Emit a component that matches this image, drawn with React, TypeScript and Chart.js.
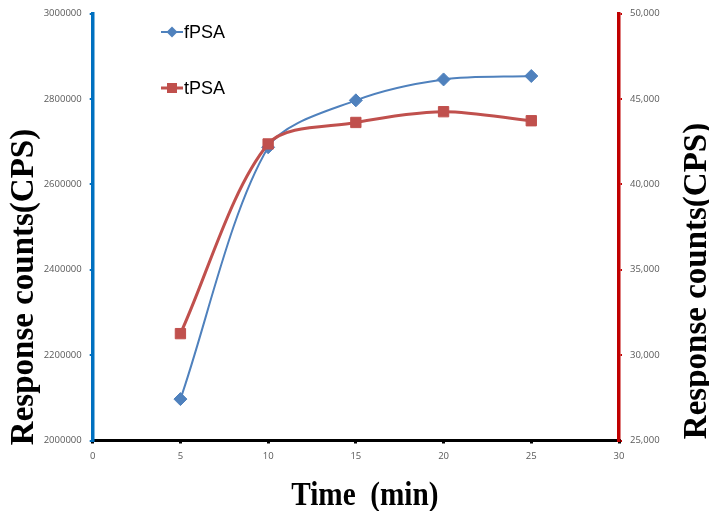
import React, { useEffect, useRef } from "react";
import { Chart, registerables } from "chart.js";

Chart.register(...registerables);

const times = [5, 10, 15, 20, 25];
const fpsaValues = [2097000, 2687000, 2797000, 2846000, 2854000];
const tpsaValues = [31260, 42370, 43630, 44260, 43730];
const seriesNames = ["fPSA", "tPSA"];
const yTitle = "Response counts(CPS)";
const xTitle = "Time  (min)";

const BLUE = "#4F81BD";
const RED = "#C0504D";
const LEFT_AXIS = "#0070C0";
const RIGHT_AXIS = "#C00000";
const TICK_COLOR = "#595959";

const titlePlugin = {
  id: "customTitlesLegend",
  afterDraw(chart: any) {
    const ctx = chart.ctx as CanvasRenderingContext2D;
    const area = chart.chartArea;
    ctx.save();
    ctx.fillStyle = "#000";
    ctx.font = "bold 33px 'Liberation Serif', 'Times New Roman', serif";
    ctx.textAlign = "center";
    ctx.textBaseline = "alphabetic";
    // left title
    ctx.save();
    ctx.translate(33, 287);
    ctx.rotate(-Math.PI / 2);
    ctx.fillText(yTitle, 0, 0);
    ctx.restore();
    // right title
    ctx.save();
    ctx.translate(706, 281);
    ctx.rotate(-Math.PI / 2);
    ctx.fillText(yTitle, 0, 0);
    ctx.restore();
    // bottom title
    ctx.save();
    ctx.font = "bold 34px 'Liberation Serif', 'Times New Roman', serif";
    ctx.translate((area.left + area.right) / 2 + 9, 505);
    ctx.scale(0.86, 1);
    ctx.fillText(xTitle, 0, 0);
    ctx.restore();

    // legend
    const items = [
      { name: seriesNames[0], color: BLUE, y: 32, width: 2, style: "diamond" },
      { name: seriesNames[1], color: RED, y: 88, width: 3, style: "square" },
    ];
    ctx.font = "18px 'Liberation Sans', Arial, sans-serif";
    ctx.textAlign = "left";
    ctx.textBaseline = "middle";
    for (const it of items) {
      ctx.strokeStyle = it.color;
      ctx.lineWidth = it.width;
      ctx.beginPath();
      ctx.moveTo(161, it.y);
      ctx.lineTo(183, it.y);
      ctx.stroke();
      ctx.fillStyle = it.color;
      ctx.beginPath();
      if (it.style === "diamond") {
        const r = 5.5;
        ctx.moveTo(172, it.y - r);
        ctx.lineTo(172 + r, it.y);
        ctx.lineTo(172, it.y + r);
        ctx.lineTo(172 - r, it.y);
        ctx.closePath();
      } else {
        ctx.rect(172 - 5, it.y - 5, 10, 10);
      }
      ctx.fill();
      ctx.fillStyle = "#000";
      ctx.fillText(it.name, 184, it.y + 1);
    }
    ctx.restore();
  },
};

export default function App() {
  const ref = useRef<HTMLCanvasElement | null>(null);
  useEffect(() => {
    if (!ref.current) return;
    const tickFont = { family: "'Open Sans', sans-serif", size: 9.5 };
    const chart = new Chart(ref.current, {
      type: "line",
      data: {
        datasets: [
          {
            label: seriesNames[1],
            data: times.map((t, i) => ({ x: t, y: tpsaValues[i] })),
            yAxisID: "y1",
            borderColor: RED,
            backgroundColor: RED,
            borderWidth: 3,
            pointStyle: "rect",
            pointRadius: 7.3,
            pointBorderWidth: 1,
            pointBorderColor: RED,
            tension: 0.3,
            order: 0,
          },
          {
            label: seriesNames[0],
            data: times.map((t, i) => ({ x: t, y: fpsaValues[i] })),
            yAxisID: "y",
            borderColor: BLUE,
            backgroundColor: BLUE,
            borderWidth: 2,
            pointStyle: "rectRot",
            pointRadius: 6.5,
            pointBorderWidth: 1,
            pointBorderColor: BLUE,
            tension: 0.3,
            order: 1,
          },
        ],
      },
      options: {
        responsive: false,
        animation: false,
        layout: { padding: { top: 3.5, left: 0, right: 0, bottom: 0 } },
        plugins: { legend: { display: false }, tooltip: { enabled: false } },
        scales: {
          x: {
            type: "linear",
            min: 0,
            max: 30,
            ticks: { stepSize: 5, color: TICK_COLOR, font: tickFont, padding: 7 },
            grid: { display: true, drawOnChartArea: false, tickLength: 3, color: "#000", lineWidth: 3 },
            border: { display: true, color: "#000", width: 3 },
            afterFit: (s: any) => { s.height = 70.5; },
          },
          y: {
            type: "linear",
            position: "left",
            min: 2000000,
            max: 3000000,
            ticks: { stepSize: 200000, color: TICK_COLOR, font: tickFont, padding: 8, callback: (v: any) => String(v) },
            grid: { display: true, drawOnChartArea: false, tickLength: 3, color: LEFT_AXIS, lineWidth: 2 },
            border: { display: true, color: LEFT_AXIS, width: 3.5 },
            afterFit: (s: any) => { s.width = 92.7; },
          },
          y1: {
            type: "linear",
            position: "right",
            min: 25000,
            max: 50000,
            ticks: {
              stepSize: 5000,
              color: TICK_COLOR,
              font: tickFont,
              padding: 8,
              callback: (v: any) => Number(v).toLocaleString("en-US"),
            },
            grid: { display: true, drawOnChartArea: false, tickLength: 3, color: RIGHT_AXIS, lineWidth: 2 },
            border: { display: true, color: RIGHT_AXIS, width: 3.5 },
            afterFit: (s: any) => { s.width = 90; },
          },
        },
      },
      plugins: [titlePlugin],
    } as any);
    return () => chart.destroy();
  }, []);
  return (
    <div style={{ position: "absolute", left: 0, top: 0, width: 709, height: 511, background: "#fff" }}>
      <canvas ref={ref} width={709} height={511} style={{ display: "block" }} />
    </div>
  );
}
